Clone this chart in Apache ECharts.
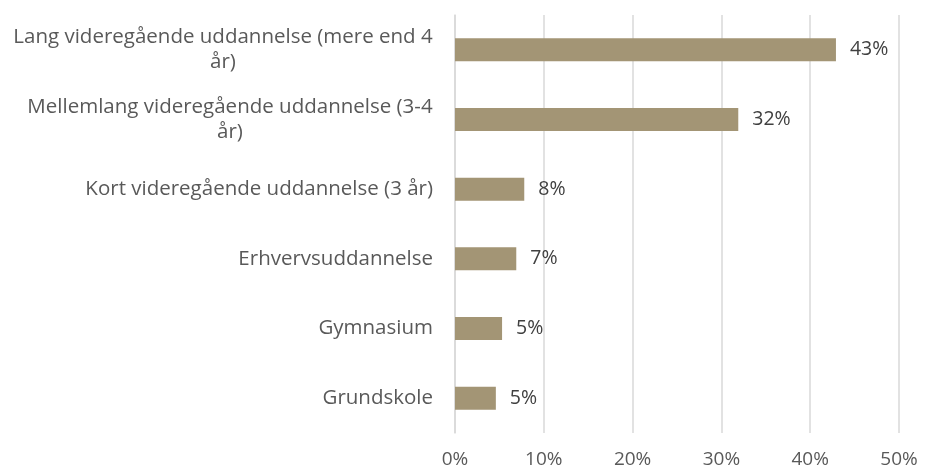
<!DOCTYPE html>
<html>
<head>
<meta charset="utf-8">
<script src="https://cdn.jsdelivr.net/npm/echarts@6/dist/echarts.min.js"></script>
<style>
html, body { margin: 0; padding: 0; background: #fff; }
#main { width: 941px; height: 470px; }
</style>
</head>
<body>
<div id="main"></div>
<script>
// kategorier, nederst først (y-aksen tegnes nedefra)
var categories = [
    'Grundskole',
    'Gymnasium',
    'Erhvervsuddannelse',
    'Kort videregående uddannelse (3 år)',
    'Mellemlang videregående uddannelse (3-4\når)',
    'Lang videregående uddannelse (mere end 4\når)'
];
var values = [4.6, 5.3, 6.9, 7.8, 31.9, 42.9];
var labels = ['5%', '5%', '7%', '8%', '32%', '43%'];
var xTicks = [0, 10, 20, 30, 40, 50];

var FONT = '"Open Sans", sans-serif';
var CAT_SIZE = 20.5;
var VAL_SIZE = 19.5;
var TICK_SIZE = 19;
var LINE_H = 25;

// bredde af første linje, så anden linje kan centreres under den
var ctx = document.createElement('canvas').getContext('2d');
ctx.font = CAT_SIZE + 'px ' + FONT;
var wrapWidth = {};
categories.forEach(function(c) {
    if (c.indexOf('\n') >= 0) {
        wrapWidth[c] = Math.ceil(ctx.measureText(c.split('\n')[0]).width);
    }
});

var rich = {};
Object.keys(wrapWidth).forEach(function(k, i) {
    rich['w' + i] = {
        width: wrapWidth[k],
        align: 'center',
        color: '#595959',
        fontFamily: FONT,
        fontSize: CAT_SIZE,
        lineHeight: LINE_H
    };
});

var myChart = echarts.init(document.getElementById('main'));

var option = {
    animation: false,
    grid: {
        left: 455,
        right: 42,
        top: 15,
        bottom: 37,
        containLabel: false
    },
    xAxis: {
        type: 'value',
        min: xTicks[0],
        max: xTicks[xTicks.length - 1],
        interval: xTicks[1] - xTicks[0],
        axisLine: { show: false },
        axisTick: { show: false },
        splitLine: { lineStyle: { color: '#d9d9d9', width: 1.5 } },
        axisLabel: {
            color: '#595959',
            fontFamily: FONT,
            fontSize: TICK_SIZE,
            margin: 17,
            formatter: function(v) { return v + '%'; }
        }
    },
    yAxis: {
        type: 'category',
        data: categories,
        axisLine: { show: true, lineStyle: { color: '#d9d9d9', width: 1.5 } },
        axisTick: { show: false },
        axisLabel: {
            color: '#595959',
            fontFamily: FONT,
            fontSize: CAT_SIZE,
            margin: 22,
            lineHeight: LINE_H,
            formatter: function(v) {
                var keys = Object.keys(wrapWidth);
                var i = keys.indexOf(v);
                if (i >= 0) {
                    var parts = v.split('\n');
                    return '{w' + i + '|' + parts[0] + '}\n{w' + i + '|' + parts[1] + '}';
                }
                return v;
            },
            rich: rich
        }
    },
    series: [{
        type: 'bar',
        data: values,
        barWidth: 23,
        itemStyle: { color: '#a39575' },
        label: {
            show: true,
            position: 'right',
            distance: 14,
            color: '#404040',
            fontFamily: FONT,
            fontSize: VAL_SIZE,
            formatter: function(p) { return labels[p.dataIndex]; }
        }
    }]
};

myChart.setOption(option);
</script>
</body>
</html>
